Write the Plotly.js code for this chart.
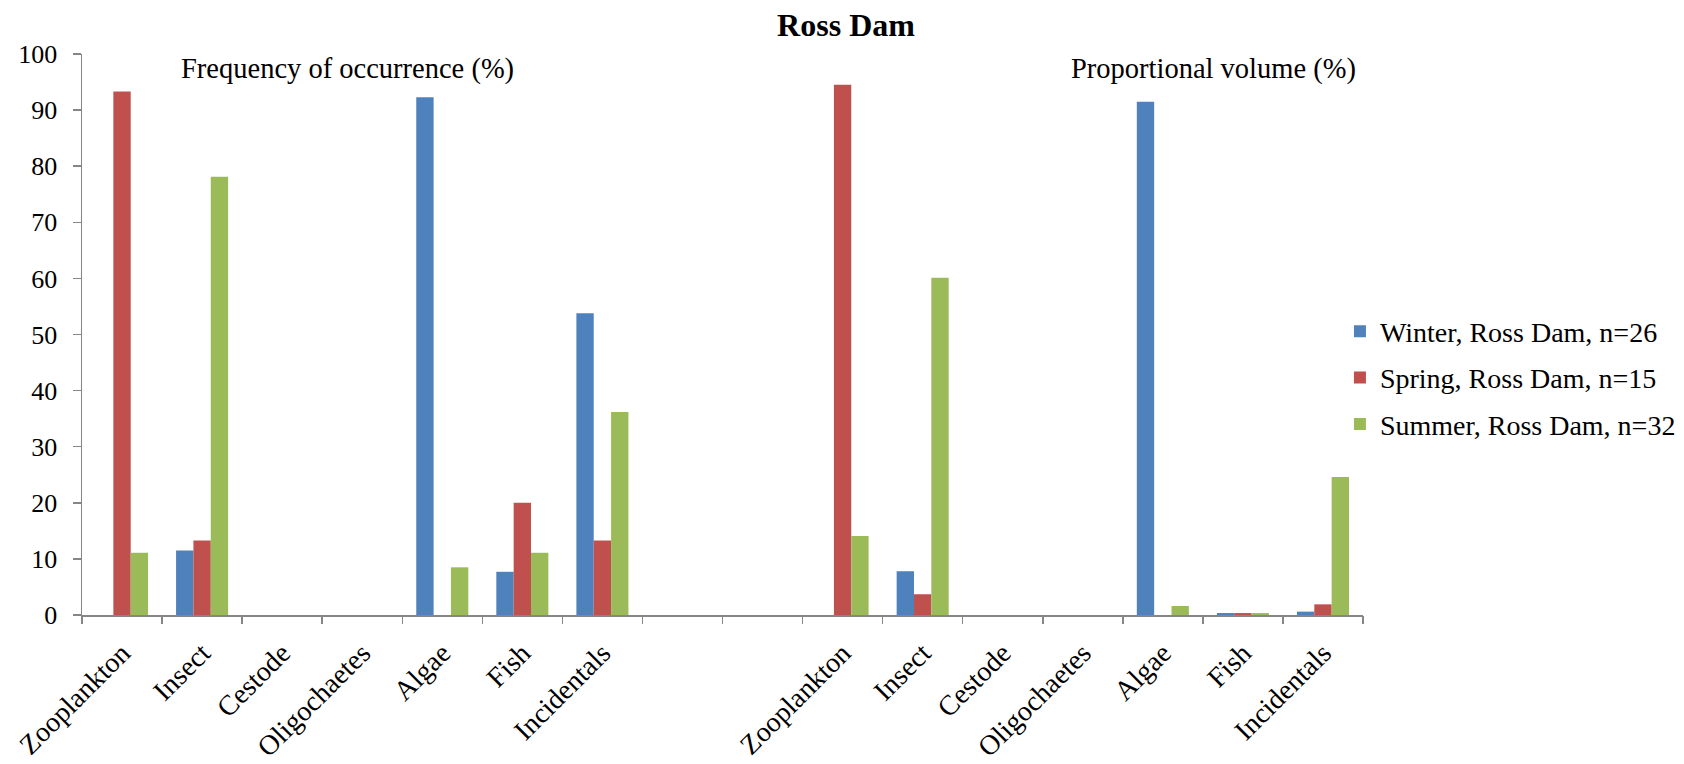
<!DOCTYPE html>
<html>
<head>
<meta charset="utf-8">
<script src="https://cdn.plot.ly/plotly-3.0.1.min.js"></script>
<style>html,body{margin:0;padding:0;background:#fff;}#chart{width:1684px;height:764px;}</style>
</head>
<body>
<div id="chart"></div>
<script>
// Category labels (two panels separated by two empty slots)
const categoryLabels = ['Zooplankton','Insect','Cestode','Oligochaetes','Algae','Fish','Incidentals','','',
                        'Zooplankton','Insect','Cestode','Oligochaetes','Algae','Fish','Incidentals'];
// Series values (%): first 7 = frequency of occurrence, last 7 = proportional volume
const winterValues = [0, 11.5, 0, 0, 92.3, 7.7, 53.8, null, null, 0, 7.8, 0, 0, 91.5, 0.35, 0.6];
const springValues = [93.3, 13.3, 0, 0, 0, 20.0, 13.3, null, null, 94.5, 3.7, 0, 0, 0, 0.35, 1.9];
const summerValues = [11.1, 78.1, 0, 0, 8.5, 11.1, 36.2, null, null, 14.1, 60.1, 0, 0, 1.6, 0.35, 24.6];
const seriesNames = ['Winter, Ross Dam, n=26','Spring, Ross Dam, n=15','Summer, Ross Dam, n=32'];
const yTickValues = [0,10,20,30,40,50,60,70,80,90,100];
const panelLabels = ['Frequency of occurrence (%)','Proportional volume (%)'];
const chartTitle = 'Ross Dam';

const colors = ['#4F81BD','#C0504D','#9BBB59'];
const font = 'Liberation Serif, Times New Roman, serif';
const positions = categoryLabels.map((_, i) => i);
const boundaries = [];
for (let i = 0; i <= categoryLabels.length; i++) boundaries.push(i - 0.5);

const seriesValues = [winterValues, springValues, summerValues];
const traces = seriesValues.map((vals, k) => ({
  type: 'bar',
  x: positions,
  y: vals,
  name: seriesNames[k],
  legendgroup: 'g' + k,
  marker: {color: colors[k], line: {width: 0}},
  hoverinfo: 'x+y'
}));
traces.push({type: 'scatter', x: [], y: [], xaxis: 'x2', yaxis: 'y', showlegend: false, hoverinfo: 'skip'});

const layout = {
  width: 1684,
  height: 764,
  paper_bgcolor: '#ffffff',
  plot_bgcolor: '#ffffff',
  margin: {l: 82, r: 321, t: 54, b: 149, pad: 0, autoexpand: false},
  font: {family: font, color: '#000000'},
  title: {text: '<b>' + chartTitle + '</b>', font: {family: font, size: 32, color: '#000'},
          x: 846/1684, xref: 'container', xanchor: 'center', y: 1 - 25/764, yref: 'container', yanchor: 'middle'},
  barmode: 'group',
  bargap: 0.35,
  bargroupgap: 0,
  showlegend: true,
  legend: {x: 0.982, xanchor: 'left', y: 0.4225, yanchor: 'middle', font: {family: font, size: 28, color: '#000'},
           tracegroupgap: 7, bgcolor: 'rgba(0,0,0,0)', borderwidth: 0, traceorder: 'grouped'},
  xaxis: {
    type: 'linear', range: [-0.5, categoryLabels.length - 0.5], tickmode: 'array', automargin: false,
    tickvals: positions, ticktext: categoryLabels, ticks: '', tickangle: -45,
    tickfont: {family: font, size: 28, color: '#000'}, ticklabelstandoff: 9,
    showline: true, linecolor: '#868686', linewidth: 1.5, showgrid: false, zeroline: false, fixedrange: true
  },
  xaxis2: {
    type: 'linear', overlaying: 'x', anchor: 'y', side: 'bottom', range: [-0.5, categoryLabels.length - 0.5],
    tickmode: 'array', tickvals: boundaries, ticks: 'outside', ticklen: 8, tickwidth: 1.5, tickcolor: '#868686',
    showticklabels: false, showline: false, showgrid: false, zeroline: false, automargin: false
  },
  yaxis: {
    range: [0, 100], tickmode: 'array', tickvals: yTickValues, ticks: 'outside', ticklen: 8, tickwidth: 1.5,
    tickcolor: '#868686', showline: true, linecolor: '#868686', linewidth: 1.5, showgrid: false, zeroline: false,
    tickfont: {family: font, size: 26, color: '#000'}, ticklabelstandoff: 10, automargin: false
  },
  annotations: [
    {text: panelLabels[0], xref: 'paper', yref: 'paper', x: 0.2069, y: 0.974, xanchor: 'center', yanchor: 'middle',
     showarrow: false, font: {family: font, size: 28.5, color: '#000'}},
    {text: panelLabels[1], xref: 'paper', yref: 'paper', x: 0.883, y: 0.974, xanchor: 'center', yanchor: 'middle',
     showarrow: false, font: {family: font, size: 28.5, color: '#000'}}
  ]
};

Plotly.newPlot('chart', traces, layout, {displayModeBar: false, staticPlot: true});
</script>
</body>
</html>
